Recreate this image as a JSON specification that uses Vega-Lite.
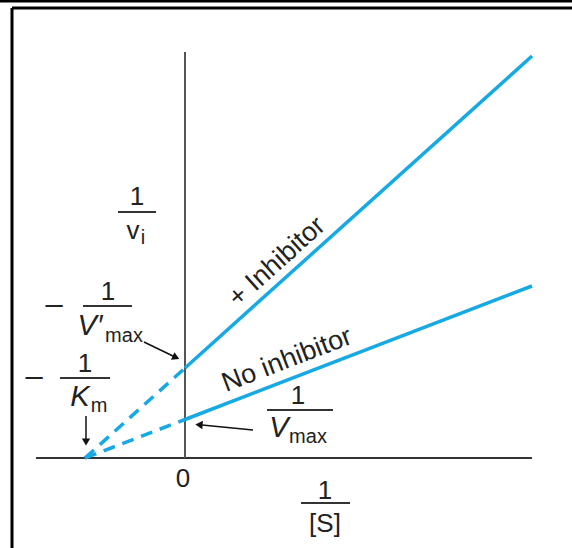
{
  "$schema": "https://vega.github.io/schema/vega-lite/v6.json",
  "width": 496,
  "height": 406,
  "autosize": {"type": "none"},
  "padding": {"left": 36, "top": 52, "right": 40, "bottom": 90},
  "background": "white",
  "config": {"view": {"stroke": null}, "text": {"font": "Liberation Sans", "align": "center", "baseline": "middle", "color": "#222"}},
  "datasets": {
    "frame": [
      {"part": "top band", "x": -1.9, "y": 4.57, "x2": 3.9, "y2": 4.57},
      {"part": "top line", "x": -1.73, "y": 4.5, "x2": 3.9, "y2": 4.5},
      {"part": "left line", "x": -1.73, "y": 4.5, "x2": -1.73, "y2": -0.95}
    ],
    "axes": [
      {"axis": "1/[S]", "x": -1.49, "y": 0, "x2": 3.47, "y2": 0},
      {"axis": "1/vi", "x": 0, "y": 0, "x2": 0, "y2": 4.06}
    ],
    "bars": [
      {"frac": "1/vi", "x": -0.67, "y": 2.46, "x2": -0.29, "y2": 2.46},
      {"frac": "1/V'max", "x": -1.02, "y": 1.52, "x2": -0.53, "y2": 1.52},
      {"frac": "1/Km", "x": -1.25, "y": 0.8, "x2": -0.75, "y2": 0.8},
      {"frac": "1/Vmax", "x": 0.82, "y": 0.48, "x2": 1.48, "y2": 0.48},
      {"frac": "1/[S]", "x": 1.16, "y": -0.45, "x2": 1.65, "y2": -0.45}
    ],
    "shafts": [
      {"arrow": "V'max", "x": -0.41, "y": 1.16, "x2": -0.1, "y2": 1.01},
      {"arrow": "Km", "x": -0.99, "y": 0.42, "x2": -0.99, "y2": 0.18},
      {"arrow": "Vmax", "x": 0.68, "y": 0.28, "x2": 0.17, "y2": 0.33}
    ],
    "heads": [
      {"arrow": "V'max", "x": -0.09, "y": 1.005, "heading": 25},
      {"arrow": "Km", "x": -0.99, "y": 0.16, "heading": 90},
      {"arrow": "Vmax", "x": 0.14, "y": 0.333, "heading": 185}
    ],
    "lines": [
      {"series": "+ Inhibitor", "part": "extrapolated", "x": -1, "y": 0},
      {"series": "+ Inhibitor", "part": "extrapolated", "x": 0, "y": 0.9},
      {"series": "+ Inhibitor", "part": "measured", "x": 0, "y": 0.9},
      {"series": "+ Inhibitor", "part": "measured", "x": 3.47, "y": 4.02},
      {"series": "No inhibitor", "part": "extrapolated", "x": -1, "y": 0},
      {"series": "No inhibitor", "part": "extrapolated", "x": 0, "y": 0.385},
      {"series": "No inhibitor", "part": "measured", "x": 0, "y": 0.385},
      {"series": "No inhibitor", "part": "measured", "x": 3.47, "y": 1.72}
    ],
    "texts": [
      {"label": "1", "x": -0.48, "y": 2.61},
      {"label": "v", "x": -0.52, "y": 2.27},
      {"label": "1", "x": -0.77, "y": 1.66},
      {"label": "1", "x": -1.0, "y": 0.94},
      {"label": "1", "x": 1.13, "y": 0.62},
      {"label": "0", "x": -0.02, "y": -0.21},
      {"label": "1", "x": 1.4, "y": -0.33},
      {"label": "[S]", "x": 1.4, "y": -0.66}
    ],
    "signs": [
      {"label": "–", "x": -1.31, "y": 1.53},
      {"label": "–", "x": -1.51, "y": 0.81}
    ],
    "italics": [
      {"label": "V′", "x": -0.95, "y": 1.32},
      {"label": "K", "x": -1.05, "y": 0.61},
      {"label": "V", "x": 0.94, "y": 0.3}
    ],
    "subs": [
      {"label": "i", "x": -0.42, "y": 2.2},
      {"label": "max", "x": -0.61, "y": 1.22},
      {"label": "m", "x": -0.86, "y": 0.52},
      {"label": "max", "x": 1.23, "y": 0.21}
    ],
    "tags": [
      {"label": "+ Inhibitor", "x": 0.92, "y": 1.96},
      {"label": "No inhibitor", "x": 1.02, "y": 0.98}
    ]
  },
  "encoding": {
    "x": {"field": "x", "type": "quantitative", "scale": {"domain": [-1.49, 3.47], "nice": false, "zero": false}, "axis": null},
    "y": {"field": "y", "type": "quantitative", "scale": {"domain": [0, 4.06], "nice": false, "zero": false}, "axis": null}
  },
  "layer": [
    {
      "data": {"name": "frame"},
      "mark": {"type": "rule", "color": "#000", "strokeWidth": 3},
      "encoding": {"x2": {"field": "x2"}, "y2": {"field": "y2"}}
    },
    {
      "data": {"name": "axes"},
      "transform": [{"filter": "datum.axis == '1/[S]'"}],
      "mark": {"type": "rule", "color": "#333", "strokeWidth": 2},
      "encoding": {"x2": {"field": "x2"}, "y2": {"field": "y2"}}
    },
    {
      "data": {"name": "axes"},
      "transform": [{"filter": "datum.axis == '1/vi'"}],
      "mark": {"type": "rule", "color": "#555", "strokeWidth": 2},
      "encoding": {"x2": {"field": "x2"}, "y2": {"field": "y2"}}
    },
    {
      "data": {"name": "bars"},
      "mark": {"type": "rule", "color": "#333", "strokeWidth": 2},
      "encoding": {"x2": {"field": "x2"}, "y2": {"field": "y2"}}
    },
    {
      "data": {"name": "lines"},
      "transform": [{"filter": "datum.part == 'extrapolated'"}],
      "mark": {"type": "line", "color": "#16a9e4", "strokeWidth": 3.5, "strokeDash": [12, 8]},
      "encoding": {"detail": {"field": "series"}}
    },
    {
      "data": {"name": "lines"},
      "transform": [{"filter": "datum.part == 'measured'"}],
      "mark": {"type": "line", "color": "#16a9e4", "strokeWidth": 3.5},
      "encoding": {"detail": {"field": "series"}}
    },
    {
      "data": {"name": "shafts"},
      "mark": {"type": "rule", "color": "#111", "strokeWidth": 1.5},
      "encoding": {"x2": {"field": "x2"}, "y2": {"field": "y2"}}
    },
    {
      "data": {"name": "heads"},
      "mark": {"type": "point", "shape": "triangle-right", "filled": true, "color": "#111", "size": 70, "opacity": 1},
      "encoding": {"angle": {"field": "heading", "type": "quantitative", "scale": null}}
    },
    {
      "data": {"name": "texts"},
      "mark": {"type": "text", "fontSize": 26},
      "encoding": {"text": {"field": "label"}}
    },
    {
      "data": {"name": "signs"},
      "mark": {"type": "text", "fontSize": 31},
      "encoding": {"text": {"field": "label"}}
    },
    {
      "data": {"name": "italics"},
      "mark": {"type": "text", "fontSize": 29, "fontStyle": "italic"},
      "encoding": {"text": {"field": "label"}}
    },
    {
      "data": {"name": "subs"},
      "mark": {"type": "text", "fontSize": 20},
      "encoding": {"text": {"field": "label"}}
    },
    {
      "data": {"name": "tags"},
      "transform": [{"filter": "datum.label == '+ Inhibitor'"}],
      "mark": {"type": "text", "fontSize": 27, "angle": -42},
      "encoding": {"text": {"field": "label"}}
    },
    {
      "data": {"name": "tags"},
      "transform": [{"filter": "datum.label == 'No inhibitor'"}],
      "mark": {"type": "text", "fontSize": 27, "angle": -21},
      "encoding": {"text": {"field": "label"}}
    }
  ]
}
